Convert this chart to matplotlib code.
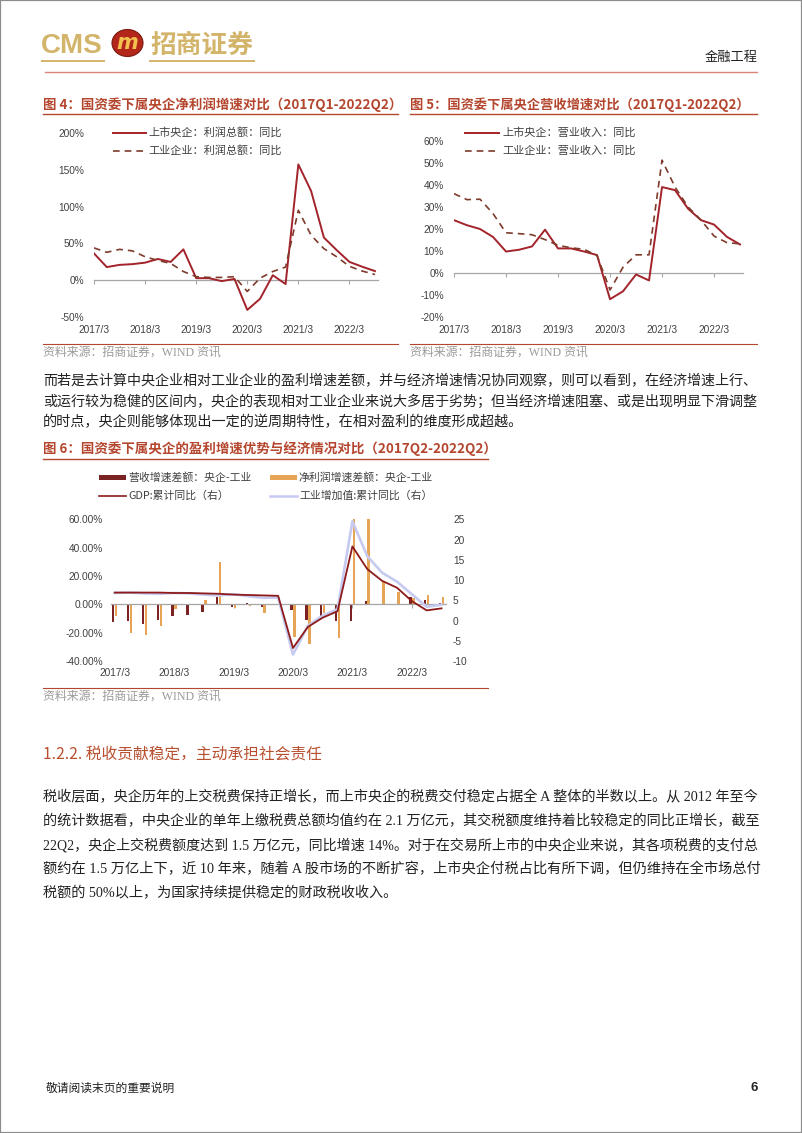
import matplotlib
matplotlib.use('Agg')
import matplotlib.pyplot as plt
from matplotlib.lines import Line2D
from matplotlib.patches import Rectangle, Ellipse
import numpy as np

W, H = 802, 1133
plt.rcParams['font.family'] = ['Liberation Sans', 'Noto Sans CJK SC']
plt.rcParams['axes.unicode_minus'] = False
fig = plt.figure(figsize=(W / 100, H / 100), dpi=100)

# ---------------- data ----------------
quarters = ['2017/3', '2017/6', '2017/9', '2017/12',
            '2018/3', '2018/6', '2018/9', '2018/12',
            '2019/3', '2019/6', '2019/9', '2019/12',
            '2020/3', '2020/6', '2020/9', '2020/12',
            '2021/3', '2021/6', '2021/9', '2021/12',
            '2022/3', '2022/6', '2022/9']
year_labels = ['2017/3', '2018/3', '2019/3', '2020/3', '2021/3', '2022/3']

# Fig 4: profit total yoy (%)
profit_central = [36.5, 18, 21, 22, 24, 29, 25, 42, 3, 3, -1, 2,
                  -40, -25, 7, -5, 157, 121, 58, 41, 25, 18.5, 12.6]
profit_industry = [44, 38, 42, 40, 32, 27, 23, 12, 5, 4, 4, 5,
                   -15, 3, 12, 18, 95, 61, 43, 32, 19, 12.6, 8]

# Fig 5: revenue yoy (%)
rev_central = [24, 21.7, 20, 16.4, 9.8, 10.6, 12.1, 19.7, 11.2, 11.2, 9.8, 8.2,
               -11.8, -8.2, -0.6, -3.3, 39, 37.6, 29.2, 24, 22, 16.4, 13]
rev_industry = [36, 33.3, 33.5, 27, 18.3, 17.9, 17.4, 15.2, 12.6, 11.5, 10.8, 8,
                -7.6, 2.7, 8.3, 8.3, 51.2, 39, 30, 24, 16.8, 13.8, 13.3]

# Fig 6: growth gaps (%) and macro (right axis, %)
rev_diff = [-12.6, -11.5, -13.8, -10.8, -8.5, -7.8, -5.7, 5.3, -1.8, 0.7, -1.6, 0.3,
            -3.9, -10.8, -8.0, -11.5, -11.5, 2.5, 0.5, -0.5, 5.3, 3.4, 0.7]
profit_diff = [-8.0, -20.5, -21.8, -15.0, -3.2, 0.2, 3.0, 30.0, -2.8, -1.1, -6.2, 0.2,
               -23.4, -28.0, -6.2, -24.0, 60.0, 60.0, 15.6, 8.7, 4.8, 6.9, 5.3]
gdp_cum = [6.9, 6.9, 6.9, 6.9, 6.8, 6.8, 6.7, 6.6, 6.4, 6.3, 6.2, 6.1,
           -6.8, -1.6, 0.7, 2.3, 18.3, 12.7, 9.8, 8.1, 4.8, 2.5, 3.0]
iva_cum = [6.8, 6.9, 6.7, 6.6, 6.8, 6.7, 6.4, 6.2, 6.5, 6.0, 5.6, 5.7,
           -8.4, -1.3, 1.2, 2.8, 24.5, 15.9, 11.8, 9.6, 6.5, 3.4, 3.9]

x = np.arange(len(quarters))
year_pos = [quarters.index(q) for q in year_labels]

# ---------------- helpers ----------------
TITLE_C = '#B4462E'
GOLD = '#D3B46B'
TEXT_C = '#222222'
TICK_C = '#404040'
AXIS_C = '#A6A6A6'
SERIF = ['Liberation Serif', 'Noto Sans CJK SC']
CJK = ['Noto Sans CJK SC', 'DejaVu Sans']


def px_axes(l, t, r, b):
    return fig.add_axes([l / W, 1 - b / H, (r - l) / W, (b - t) / H])


def ftext(xp, yp, s, **kw):
    kw.setdefault('va', 'center')
    return fig.text(xp / W, 1 - yp / H, s, **kw)


def fline(x0, x1, y0, y1=None, **kw):
    if y1 is None:
        y1 = y0
    fig.add_artist(Line2D([x0 / W, x1 / W], [1 - y0 / H, 1 - y1 / H],
                          transform=fig.transFigure, **kw))


def style_axes(ax, ylim, yticks, ylabels, xlim, ypad_px, xpad_px):
    for s in ax.spines.values():
        s.set_visible(False)
    ax.set_xlim(*xlim)
    ax.set_ylim(*ylim)
    ax.set_yticks(yticks)
    ax.set_yticklabels(ylabels)
    ax.tick_params(axis='y', length=0, pad=ypad_px * 0.72, labelsize=7.3,
                   labelcolor=TICK_C)
    sp = ax.spines['bottom']
    sp.set_visible(True)
    sp.set_position(('data', 0))
    sp.set_color(AXIS_C)
    sp.set_linewidth(0.9)
    ax.set_xticks(year_pos)
    ax.tick_params(axis='x', direction='out', length=3, width=0.8, color=AXIS_C,
                   labelbottom=False)
    sec = ax.secondary_xaxis('bottom')
    sec.set_xticks(year_pos, labels=year_labels)
    for s in sec.spines.values():
        s.set_visible(False)
    sec.tick_params(length=0, pad=xpad_px * 0.72, labelsize=7.3, labelcolor=TICK_C)
    ax.patch.set_alpha(0)


renderer = fig.canvas.get_renderer()


def justify(t, target_px):
    bb = t.get_window_extent(renderer)
    t.set_fontsize(t.get_fontsize() * target_px / bb.width)


# ---------------- page frame & header ----------------
fig.add_artist(Rectangle((0, 0), 1, 1, transform=fig.transFigure, fill=False,
                         edgecolor='#8C8C8C', lw=1.6))
ftext(41, 46, 'CMS', fontsize=20, fontweight='bold', color=GOLD,
      family=['Liberation Sans'], ha='left')
fig.add_artist(Ellipse((127.5 / W, 1 - 43 / H), 31 / W, 27 / H,
                       transform=fig.transFigure, facecolor='#B3261A',
                       edgecolor='#7A1A10', lw=0.8))
ftext(127.5, 43, 'm', fontsize=15, fontweight='bold', style='italic',
      color='#F2C14E', ha='center', family=['DejaVu Sans'])
ftext(150, 45, '招商证券', fontsize=18.5, fontweight='bold', color=GOLD,
      family=CJK, ha='left')
fline(42, 104, 61, color=GOLD, lw=1.4)
fline(150, 254, 61, color=GOLD, lw=1.4)
ftext(758, 57, '金融工程', fontsize=9.5, color=TEXT_C, family=CJK, ha='right')
fline(45, 757, 72, color='#D9857A', lw=1.0)

# ---------------- titles ----------------
ftext(43, 105, '图 4：国资委下属央企净利润增速对比（2017Q1-2022Q2）', fontsize=9.7,
      fontweight='bold', color=TITLE_C, family=CJK, ha='left')
fline(43, 398, 114, color=TITLE_C, lw=1.0)
ftext(410, 105, '图 5：国资委下属央企营收增速对比（2017Q1-2022Q2）', fontsize=9.5,
      fontweight='bold', color=TITLE_C, family=CJK, ha='left')
fline(410, 757, 114, color=TITLE_C, lw=1.0)

# ---------------- Fig 4 ----------------
ax4 = px_axes(94, 132.7, 378.3, 317.3)
ax4.plot(x, profit_central, color='#A3232A', lw=1.4, zorder=3)
ax4.plot(x, profit_industry, color='#7E3B2C', lw=1.2, ls=(0, (4, 3)), zorder=3)
style_axes(ax4, (-50, 200), [-50, 0, 50, 100, 150, 200],
           ['-50%', '0%', '50%', '100%', '150%', '200%'], (0, 22.26), 10, 7.5)
fline(113, 146, 132.7, color='#A3232A', lw=1.4)
ftext(148.5, 132.7, '上市央企：利润总额：同比', fontsize=8, color=TICK_C, family=CJK, ha='left')
fline(113, 146, 150.7, color='#7E3B2C', lw=1.2, ls=(0, (4, 3)))
ftext(148.5, 150.7, '工业企业：利润总额：同比', fontsize=8, color=TICK_C, family=CJK, ha='left')
fline(43, 398, 344, color=TITLE_C, lw=0.8)
ftext(43, 352.5, '资料来源：招商证券，WIND 资讯', fontsize=8.6, color='#9A9A9A',
      family=SERIF, ha='left')

# ---------------- Fig 5 ----------------
ax5 = px_axes(454, 140.7, 743.3, 317.3)
ax5.plot(x, rev_central, color='#A3232A', lw=1.4, zorder=3)
ax5.plot(x, rev_industry, color='#7E3B2C', lw=1.2, ls=(0, (4, 3)), zorder=3)
style_axes(ax5, (-20, 60), [-20, -10, 0, 10, 20, 30, 40, 50, 60],
           ['-20%', '-10%', '0%', '10%', '20%', '30%', '40%', '50%', '60%'],
           (0, 22.25), 10, 7.5)
fline(465, 499, 132.7, color='#A3232A', lw=1.4)
ftext(502.5, 132.7, '上市央企：营业收入：同比', fontsize=8, color=TICK_C, family=CJK, ha='left')
fline(465, 499, 150.7, color='#7E3B2C', lw=1.2, ls=(0, (4, 3)))
ftext(502.5, 150.7, '工业企业：营业收入：同比', fontsize=8, color=TICK_C, family=CJK, ha='left')
fline(410, 757, 344, color=TITLE_C, lw=0.8)
ftext(410, 352.5, '资料来源：招商证券，WIND 资讯', fontsize=8.6, color='#9A9A9A',
      family=SERIF, ha='left')

# ---------------- paragraph 1 ----------------
para1 = ['而若是去计算中央企业相对工业企业的盈利增速差额，并与经济增速情况协同观察，则可以看到，在经济增速上行、',
         '或运行较为稳健的区间内，央企的表现相对工业企业来说大多居于劣势；但当经济增速阻塞、或是出现明显下滑调整',
         '的时点，央企则能够体现出一定的逆周期特性，在相对盈利的维度形成超越。']
p1_texts = []
for i, line in enumerate(para1):
    p1_texts.append(ftext(43, 381.5 + i * 20.2, line, fontsize=10.2, color=TEXT_C,
                          family=SERIF, ha='left'))
for t in p1_texts[:-1]:
    justify(t, 714)

# ---------------- Fig 6 ----------------
ftext(43, 449, '图 6：国资委下属央企的盈利增速优势与经济情况对比（2017Q2-2022Q2）', fontsize=9.7,
      fontweight='bold', color=TITLE_C, family=CJK, ha='left')
fline(43, 488, 458.5, color=TITLE_C, lw=1.0)

DARK = '#7B2222'
ORANGE = '#E6A457'
GDP_C = '#8E1B1B'
IVA_C = '#C6CAF0'

ax6 = px_axes(111, 519.3, 446, 661)
ax6.bar(x - 0.1, rev_diff, width=0.17, color=DARK, zorder=2)
ax6.bar(x + 0.1, profit_diff, width=0.17, color=ORANGE, zorder=2)
style_axes(ax6, (-40, 60), [-40, -20, 0, 20, 40, 60],
           ['-40.00%', '-20.00%', '0.00%', '20.00%', '40.00%', '60.00%'],
           (-0.25, 22.3), 8, 7.5)
ax6b = ax6.twinx()
ax6b.plot(x, iva_cum, color=IVA_C, lw=1.9, zorder=3)
ax6b.plot(x, gdp_cum, color=GDP_C, lw=1.3, zorder=4)
for s in ax6b.spines.values():
    s.set_visible(False)
ax6b.set_ylim(-10, 25)
ax6b.set_yticks(range(-10, 26, 5))
ax6b.tick_params(axis='y', length=0, pad=7 * 0.72, labelsize=7.3, labelcolor=TICK_C)

# legend (Fig 6)
fig.add_artist(Rectangle((99 / W, 1 - 480 / H), 27 / W, 5 / H, transform=fig.transFigure,
                         facecolor=DARK, edgecolor='none'))
ftext(128, 477.7, '营收增速差额：央企-工业', fontsize=7.8, color=TICK_C, family=CJK, ha='left')
fig.add_artist(Rectangle((270 / W, 1 - 480 / H), 27 / W, 5 / H, transform=fig.transFigure,
                         facecolor=ORANGE, edgecolor='none'))
ftext(298.5, 477.7, '净利润增速差额：央企-工业', fontsize=7.8, color=TICK_C, family=CJK, ha='left')
fline(99, 126, 496, color=GDP_C, lw=1.2)
ftext(128, 496, 'GDP:累计同比（右）', fontsize=7.8, color=TICK_C, family=CJK, ha='left')
fline(270, 297, 496, color=IVA_C, lw=1.8)
ftext(299, 496, '工业增加值:累计同比（右）', fontsize=7.8, color=TICK_C, family=CJK, ha='left')

fline(43, 488, 688, color=TITLE_C, lw=0.8)
ftext(43, 697, '资料来源：招商证券，WIND 资讯', fontsize=8.6, color='#9A9A9A',
      family=SERIF, ha='left')

# ---------------- section 1.2.2 ----------------
ftext(43, 754, '1.2.2. 税收贡献稳定，主动承担社会责任', fontsize=11.3, color='#B8502F',
      family=CJK, ha='left', fontweight='medium')

para2 = ['税收层面，央企历年的上交税费保持正增长，而上市央企的税费交付稳定占据全 A 整体的半数以上。从 2012 年至今',
         '的统计数据看，中央企业的单年上缴税费总额均值约在 2.1 万亿元，其交税额度维持着比较稳定的同比正增长，截至',
         '22Q2，央企上交税费额度达到 1.5 万亿元，同比增速 14%。对于在交易所上市的中央企业来说，其各项税费的支付总',
         '额约在 1.5 万亿上下，近 10 年来，随着 A 股市场的不断扩容，上市央企付税占比有所下调，但仍维持在全市场总付',
         '税额的 50%以上，为国家持续提供稳定的财政税收收入。']
p2_texts = []
for i, line in enumerate(para2):
    p2_texts.append(ftext(43, 797 + i * 24, line, fontsize=10.2, color=TEXT_C,
                          family=SERIF, ha='left'))
for t in p2_texts[:-1]:
    justify(t, 714)

# ---------------- footer ----------------
ftext(46, 1088, '敬请阅读末页的重要说明', fontsize=8.5, color=TEXT_C, family=CJK, ha='left')
ftext(758, 1088, '6', fontsize=9.5, fontweight='bold', color=TEXT_C, ha='right')

fig.savefig('out.png', dpi=100)
